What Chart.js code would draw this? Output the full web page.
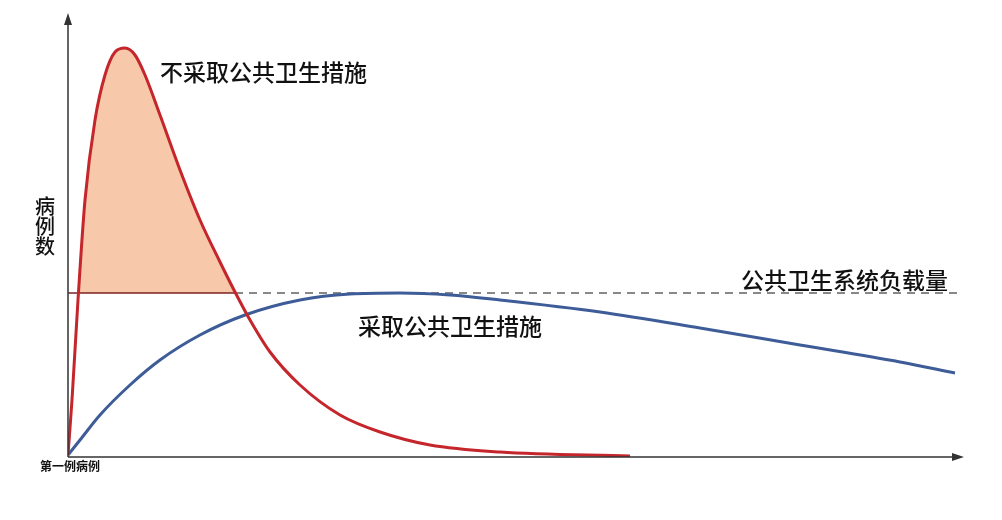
<!DOCTYPE html>
<html><head><meta charset="utf-8">
<script src="https://cdn.jsdelivr.net/npm/chart.js@4/dist/chart.umd.min.js"></script>
<style>body{margin:0;background:#fff}</style></head>
<body><canvas id="c" width="1002" height="520"></canvas>
<script>
// x: days since first case (arbitrary units), y: case count (arbitrary units)
const redX = [0, 4, 10, 17, 27, 37, 47, 57, 67, 77, 92, 112, 132, 152, 167, 182, 202, 232, 272, 312, 362, 432, 562];
const redY = [2, 57, 157, 257, 337, 382, 405, 409, 402, 382, 342, 287, 237, 195, 165, 137, 105, 72, 42, 25, 12, 5, 1];
const blueX = [0, 12, 32, 62, 92, 132, 177, 232, 282, 332, 382, 432, 532, 632, 732, 832, 887];
const blueY = [2, 17, 42, 72, 97, 122, 142, 157, 163, 164, 162, 157, 145, 129, 112, 95, 84];
const capacity = 164;
const fillX = [10.5, 17, 27, 37, 47, 57, 67, 77, 92, 112, 132, 152, 167];
const fillY = [164, 257, 337, 382, 405, 409, 402, 382, 342, 287, 237, 195, 164];
const labels = [
  { text: '不采取公共卫生措施', x: 92, y: 385, align: 'left' },
  { text: '公共卫生系统负载量', x: 880, y: 177, align: 'right' },
  { text: '采取公共卫生措施', x: 290, y: 131, align: 'left' }
];

const pts = (xs, ys) => xs.map((x, i) => ({ x, y: ys[i] }));

const decor = {
  id: 'decor',
  afterDatasetsDraw(chart) {
    const { ctx, chartArea: a, scales: { x, y } } = chart;
    ctx.save();
    ctx.strokeStyle = '#333'; ctx.fillStyle = '#333'; ctx.lineWidth = 1.5;
    ctx.beginPath();
    ctx.moveTo(a.left, a.bottom); ctx.lineTo(a.left, a.top);
    ctx.moveTo(a.left, a.bottom); ctx.lineTo(a.right, a.bottom);
    ctx.stroke();
    ctx.beginPath();
    ctx.moveTo(a.left, a.top - 4); ctx.lineTo(a.left - 4, a.top + 8); ctx.lineTo(a.left + 4, a.top + 8); ctx.closePath();
    ctx.moveTo(a.right + 4, a.bottom); ctx.lineTo(a.right - 8, a.bottom - 4); ctx.lineTo(a.right - 8, a.bottom + 4); ctx.closePath();
    ctx.fill();
    ctx.fillStyle = '#111';
    ctx.font = '500 23px "Noto Sans CJK SC"';
    ctx.textBaseline = 'middle';
    labels.forEach(l => {
      ctx.textAlign = l.align;
      ctx.fillText(l.text, x.getPixelForValue(l.x), y.getPixelForValue(l.y));
    });
    ctx.font = '500 20px "Noto Sans CJK SC"';
    ctx.textAlign = 'center';
    ['病', '例', '数'].forEach((ch, i) => ctx.fillText(ch, 45, 206 + i * 20));
    ctx.font = 'bold 12px "Noto Sans CJK SC"';
    ctx.fillText('第一例病例', 70, 466);
    ctx.restore();
  }
};

new Chart(document.getElementById('c'), {
  type: 'line',
  data: {
    datasets: [
      { data: pts(fillX, fillY), borderWidth: 0, pointRadius: 0, fill: { value: capacity }, order: 5,
        backgroundColor: '#f7c8aa', cubicInterpolationMode: 'monotone' },
      { data: [{ x: 0, y: capacity }, { x: 167, y: capacity }], borderColor: '#7a2222', borderWidth: 1.5, pointRadius: 0, order: 4 },
      { data: [{ x: 167, y: capacity }, { x: 892, y: capacity }], borderColor: '#888', borderWidth: 2, borderDash: [8, 6], pointRadius: 0, order: 3 },
      { data: pts(blueX, blueY), borderColor: '#3d5c98', borderWidth: 3, pointRadius: 0, order: 2, cubicInterpolationMode: 'monotone' },
      { data: pts(redX, redY), borderColor: '#c4262b', borderWidth: 3, pointRadius: 0, order: 1, cubicInterpolationMode: 'monotone' }
    ]
  },
  options: {
    responsive: false, animation: false,
    layout: { padding: { left: 68, right: 42, top: 17, bottom: 63 } },
    plugins: { legend: { display: false }, tooltip: { enabled: false } },
    scales: {
      x: { type: 'linear', min: 0, max: 892, display: false },
      y: { min: 0, max: 440, display: false }
    }
  },
  plugins: [decor]
});
</script></body></html>
